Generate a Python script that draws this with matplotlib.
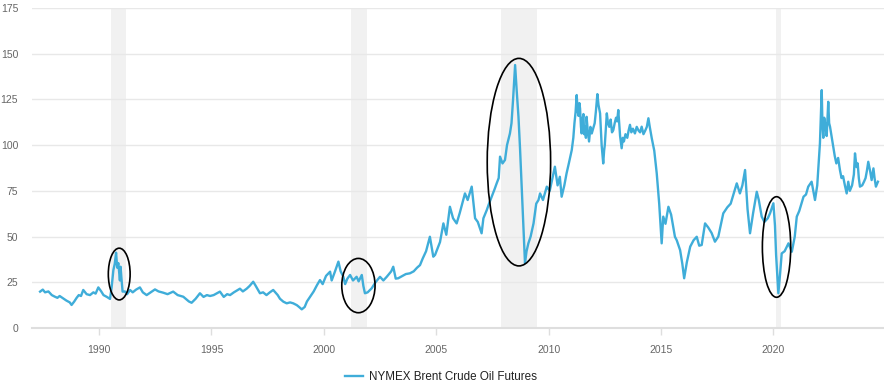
import matplotlib
matplotlib.use("Agg")
import matplotlib.pyplot as plt
from matplotlib.patches import Ellipse

# ---- data (decimal year, USD/bbl) ----
years = [1987.38, 1987.5, 1987.6, 1987.75, 1987.9, 1988.04, 1988.15, 1988.25, 1988.41, 1988.55,
         1988.7, 1988.78, 1988.9, 1989.0, 1989.1, 1989.2, 1989.3, 1989.45, 1989.6, 1989.75,
         1989.85, 1989.97, 1990.1, 1990.2, 1990.35, 1990.49, 1990.56, 1990.64, 1990.7, 1990.76,
         1990.81, 1990.86, 1990.93, 1990.96, 1991.0, 1991.05, 1991.15, 1991.25, 1991.38, 1991.5,
         1991.65, 1991.82, 1991.95, 1992.12, 1992.3, 1992.49, 1992.65, 1992.86, 1993.05, 1993.3,
         1993.5, 1993.75, 1993.9, 1994.0, 1994.12, 1994.3, 1994.49, 1994.65, 1994.8, 1994.94,
         1995.1, 1995.38, 1995.55, 1995.7, 1995.83, 1996.0, 1996.27, 1996.4, 1996.57, 1996.7,
         1996.86, 1996.95, 1997.16, 1997.3, 1997.45, 1997.6, 1997.75, 1997.95, 1998.05, 1998.2,
         1998.35, 1998.5, 1998.64, 1998.8, 1998.9, 1999.02, 1999.15, 1999.25, 1999.39, 1999.55,
         1999.7, 1999.83, 1999.95, 2000.1, 2000.28, 2000.35, 2000.5, 2000.65, 2000.75, 2000.87,
         2000.95, 2001.05, 2001.17, 2001.3, 2001.46, 2001.55, 2001.69, 2001.76, 2001.83, 2001.95,
         2002.13, 2002.3, 2002.5, 2002.65, 2002.8, 2003.0, 2003.09, 2003.2, 2003.31, 2003.5,
         2003.65, 2003.83, 2004.0, 2004.15, 2004.28, 2004.4, 2004.55, 2004.72, 2004.87, 2004.95,
         2005.17, 2005.32, 2005.45, 2005.61, 2005.75, 2005.91, 2006.05, 2006.28, 2006.4, 2006.58,
         2006.73, 2006.85, 2007.02, 2007.1, 2007.25, 2007.35, 2007.47, 2007.6, 2007.69, 2007.78,
         2007.84, 2007.95, 2008.06, 2008.15, 2008.28, 2008.35, 2008.42, 2008.51, 2008.58, 2008.66,
         2008.73, 2008.81, 2008.88, 2008.95, 2009.02, 2009.1, 2009.2, 2009.33, 2009.45, 2009.55,
         2009.62, 2009.75, 2009.92, 2010.05, 2010.28, 2010.4, 2010.5, 2010.58, 2010.7, 2010.8,
         2010.9, 2011.03, 2011.1, 2011.15, 2011.2, 2011.25, 2011.29, 2011.33, 2011.37, 2011.4,
         2011.44, 2011.47, 2011.51, 2011.55, 2011.58, 2011.62, 2011.66, 2011.69, 2011.74, 2011.8,
         2011.86, 2011.92, 2011.98, 2012.05, 2012.1, 2012.17, 2012.22, 2012.29, 2012.33, 2012.36,
         2012.43, 2012.47, 2012.5, 2012.55, 2012.59, 2012.64, 2012.7, 2012.76, 2012.82, 2012.88,
         2012.94, 2013.0, 2013.05, 2013.1, 2013.15, 2013.18, 2013.25, 2013.3, 2013.35, 2013.42,
         2013.5, 2013.56, 2013.62, 2013.68, 2013.75, 2013.84, 2013.92, 2014.0, 2014.07, 2014.14,
         2014.22, 2014.3, 2014.37, 2014.44, 2014.5, 2014.59, 2014.7, 2014.81, 2014.92, 2015.03,
         2015.1, 2015.2, 2015.33, 2015.45, 2015.62, 2015.7, 2015.85, 2015.95, 2016.03, 2016.15,
         2016.3, 2016.45, 2016.59, 2016.7, 2016.81, 2016.96, 2017.1, 2017.25, 2017.4, 2017.55,
         2017.77, 2017.95, 2018.1, 2018.37, 2018.51, 2018.62, 2018.74, 2018.85, 2018.96, 2019.1,
         2019.26, 2019.35, 2019.48, 2019.6, 2019.75, 2019.85, 2020.0, 2020.07, 2020.12, 2020.22,
         2020.3, 2020.37, 2020.5, 2020.67, 2020.82, 2020.95, 2021.04, 2021.15, 2021.34, 2021.45,
         2021.55, 2021.7, 2021.85, 2021.95, 2022.07, 2022.15, 2022.18, 2022.22, 2022.26, 2022.3,
         2022.37, 2022.44, 2022.48, 2022.52, 2022.6, 2022.67, 2022.73, 2022.8, 2022.88, 2022.96,
         2023.03, 2023.1, 2023.18, 2023.26, 2023.33, 2023.4, 2023.5, 2023.58, 2023.63, 2023.7,
         2023.75, 2023.8, 2023.85, 2023.95, 2024.03, 2024.1, 2024.16, 2024.22, 2024.3, 2024.37,
         2024.45, 2024.5, 2024.56, 2024.65]
prices = [19.9, 21, 19.5, 20, 18, 17.1, 16.5, 17.5, 16.2, 15,
          14, 12.6, 14.5, 16.4, 18, 17.5, 20.8, 18.5, 18, 19.5,
          18.8, 22.2, 20, 18, 17, 15.9, 22, 31.7, 35, 41.2,
          33, 35.5, 26, 33.5, 27, 19.9, 20, 18.5, 20.8, 19.5,
          21, 22.2, 19.5, 18, 19.5, 21.1, 20, 19.3, 18.5, 19.9,
          18, 17.1, 15.5, 14.5, 13.8, 16, 19, 17, 18, 17.5,
          18, 19.9, 17, 18.5, 18, 19.5, 21.5, 20, 21.5, 23,
          25.3, 23.5, 19, 19.5, 18, 19.5, 20.8, 18, 16, 14.4,
          13.5, 14, 13.5, 12.5, 11.5, 10.2, 11.5, 14.5, 17.1, 20,
          23.5, 26.2, 24, 28.5, 30.8, 26, 31, 36.3, 31, 28,
          24, 27, 29, 26, 28, 25.5, 29, 23, 19, 19.5,
          21.7, 25, 28, 26, 28, 31, 33.5, 27, 27.2, 28.5,
          29.5, 29.9, 31, 33, 34.4, 38, 42, 49.9, 39, 40,
          47, 57.2, 51, 66.3, 60, 57.2, 63, 73.6, 70, 77.3,
          60, 58, 51.8, 60, 64.5, 68, 71.8, 76, 79.1, 82,
          93.7, 90, 91.9, 100, 106.4, 112, 125, 143.8, 130, 115.5,
          98, 75.5, 55, 35.4, 42, 46.3, 50, 57.2, 68, 70,
          73.6, 70, 77.3, 75, 88.2, 78, 82.7, 71.8, 78, 84.6,
          90, 97.3, 104, 112, 118, 127.4, 119, 116, 123, 120,
          110, 106.4, 114, 117, 106, 110, 104, 115.5, 108, 102,
          110, 106.4, 109, 112, 118, 127.9, 122, 117.4, 108, 100,
          90, 97, 100, 110, 117.4, 112, 110, 114, 107, 108.3,
          112, 115, 113, 119.2, 110, 105, 98.3, 104, 102, 106,
          104, 108, 111.1, 107, 109, 106.4, 110, 108, 107, 110.1,
          106, 108, 110, 114.7, 110, 103.7, 97, 84.6, 68, 46.3,
          60.9, 57, 66.3, 62, 49.9, 48, 42.6, 35, 27.2, 36,
          44.5, 48, 49.9, 45, 45.4, 57.2, 55, 52, 47.2, 50,
          62.7, 66, 68, 79.1, 73.6, 78, 86.4, 65, 51.8, 63,
          74.5, 70, 60.9, 58, 60, 62.7, 68.2, 56, 40, 19,
          30, 40.8, 42, 46.3, 41.7, 50, 60.9, 64, 71.8, 73,
          77.3, 80, 70, 78, 101, 130.1, 112, 104, 115, 111.9,
          105, 123.7, 112, 110, 104, 99.1, 94, 90, 93, 86.4,
          82, 83, 78, 73.6, 80, 75, 78, 84, 95.5, 88,
          90, 82, 77.3, 78, 80, 82, 86, 90.9, 86, 80.9,
          87.3, 82, 77.3, 80]

series_label = "NYMEX Brent Crude Oil Futures"
recessions = [(1990.55, 1991.2), (2001.2, 2001.9), (2007.9, 2009.5), (2020.1, 2020.35)]
# highlight ellipses: (center year, center value, width in years, height in value)
highlights = [(1990.9, 29.5, 0.97, 28.3), (2001.54, 23.2, 1.48, 29.7),
              (2008.68, 90.7, 2.82, 113.5), (2020.14, 44.3, 1.26, 55.0)]
year_ticks = [1990, 1995, 2000, 2005, 2010, 2015, 2020]
value_ticks = [0, 25, 50, 75, 100, 125, 150, 175]

plt.rcParams['font.family'] = ['Liberation Sans', 'DejaVu Sans']

fig = plt.figure(figsize=(8.84, 3.88), dpi=100)
ax = fig.add_axes([32/884, 1 - 328/388, 852/884, 320/388])

for a, b in recessions:
    ax.axvspan(a, b, color='#f1f1f1', zorder=0, lw=0)

line, = ax.plot(years, prices, color='#3fadd9', lw=1.7, zorder=3, label=series_label,
                solid_joinstyle='round')

for cx, cy, w, h in highlights:
    ax.add_patch(Ellipse((cx, cy), w, h, fill=False, ec='black', lw=1.2, zorder=4))

ax.set_xlim(1987.02, 2024.92)
ax.set_ylim(0, 175)
ax.set_xticks(year_ticks)
ax.set_xticklabels([str(y) for y in year_ticks])
ax.set_yticks(value_ticks)
ax.set_yticklabels([str(v) for v in value_ticks])

for v in value_ticks[1:]:
    ax.axhline(v, color='#e8e8e8', lw=1, zorder=1)

for s in ['top', 'right', 'left']:
    ax.spines[s].set_visible(False)
ax.spines['bottom'].set_color('#dedede')
ax.spines['bottom'].set_linewidth(1.5)
ax.spines['bottom'].set_zorder(2)

ax.tick_params(axis='y', length=0, pad=10, labelsize=7.5, labelcolor='#666666')
ax.tick_params(axis='x', length=5, width=1, color='#dedede', pad=7, labelsize=7.5,
               labelcolor='#666666')

fig.legend(handles=[line], labels=[series_label], loc='center',
           bbox_to_anchor=(441/884, 1 - 377/388), frameon=False, fontsize=8.4,
           handlelength=1.6, handletextpad=0.5, labelcolor='#222222')

fig.savefig('out.png', dpi=100, facecolor='white')
